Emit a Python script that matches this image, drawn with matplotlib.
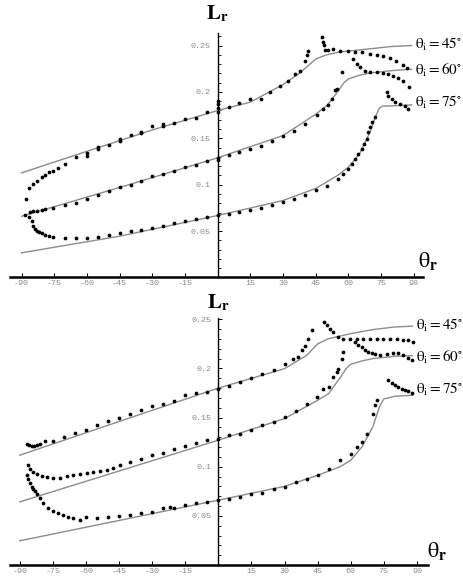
import matplotlib
matplotlib.use("Agg")
import matplotlib.pyplot as plt
from matplotlib.ticker import MultipleLocator, FixedLocator

plt.rcParams["mathtext.fontset"] = "stix"

# ---- panel 1: curves ----
t45_cx = [-90, -60, -30, 0, 15, 30, 38, 45, 50, 56, 60, 70, 80, 89]
t45_cy = [0.1128, 0.136, 0.159, 0.180, 0.189, 0.208, 0.221, 0.2355, 0.240, 0.243, 0.244, 0.2465, 0.249, 0.250]
t60_cx = [-90, -45, 0, 30, 45, 50, 55, 58, 60, 65, 70, 80, 89]
t60_cy = [0.066, 0.097, 0.129, 0.153, 0.176, 0.185, 0.200, 0.210, 0.214, 0.218, 0.2205, 0.223, 0.2245]
t75_cx = [-90, -45, 0, 30, 45, 55, 60, 65, 70, 72, 74, 75.5, 80, 89]
t75_cy = [0.0266, 0.0445, 0.0668, 0.083, 0.096, 0.110, 0.119, 0.133, 0.157, 0.171, 0.182, 0.1847, 0.185, 0.186]

# ---- panel 1: measured points ----
t45_x = [-87.9, -86.4, -84.6, -82.7, -80.7, -79.2, -77.4, -75.4, -73.1, -70,
         -65, -60, -60, -55, -55, -50, -45, -45, -40, -35,
         -35, -30, -25, -25, -20, -15, -10, -5, 0, 0,
         0, 0, 5, 10, 15, 20, 24, 28.6, 32.4, 35.5,
         37.8, 40, 40.8, 41.6, 47.7, 48.4, 48.9, 49.3, 50.5, 53,
         56, 60, 63, 66, 70, 73, 76, 79, 82, 85, 87]
t45_y = [0.0848, 0.0963, 0.101, 0.1045, 0.108, 0.111, 0.1135, 0.1153, 0.118, 0.1225,
         0.1297, 0.134, 0.131, 0.1404, 0.138, 0.143, 0.1494, 0.147, 0.1537, 0.1573,
         0.156, 0.1638, 0.1656, 0.163, 0.1667, 0.171, 0.172, 0.178, 0.178, 0.183,
         0.187, 0.19, 0.1835, 0.1883, 0.1926, 0.1926, 0.2004, 0.2069, 0.2123, 0.2195,
         0.223, 0.2338, 0.2393, 0.2446, 0.259, 0.2537, 0.2501, 0.2447, 0.245, 0.2464,
         0.244, 0.244, 0.243, 0.2425, 0.241, 0.24, 0.239, 0.237, 0.2338, 0.229, 0.2255]
t60_x = [-88.4, -86, -84.6, -82.7, -80.7, -79.2, -75.4,
         -70, -65, -60, -55, -50, -45, -40, -35, -30, -25, -20, -15, -10, -5,
         0, 0, 5, 10, 15, 20, 25, 30, 35, 40,
         45.4, 48.5, 50.8, 52.3, 53.8, 54.6, 56.9,
         62.2, 63.8, 65.3, 67.6, 70, 73, 76, 78.3, 80.6, 82.9, 85.2, 88]
t60_y = [0.0675, 0.0704, 0.0715, 0.072, 0.073, 0.0733, 0.0747,
         0.0776, 0.080, 0.0848, 0.0894, 0.093, 0.0973, 0.1002, 0.1045, 0.1092, 0.1117, 0.1153, 0.119, 0.1214, 0.1254,
         0.129, 0.127, 0.132, 0.135, 0.1387, 0.1422, 0.1466, 0.153, 0.1584, 0.1656,
         0.1746, 0.182, 0.186, 0.1925, 0.2026, 0.2033, 0.222,
         0.2357, 0.23, 0.2267, 0.223, 0.222, 0.221, 0.2206, 0.2195, 0.217, 0.2149, 0.2123, 0.205]
t75_x = [-86.4, -85.3, -84.6, -83.8, -82.7, -81.8, -80.7, -79.2, -77.4, -75.4,
         -70, -65, -60, -55, -50, -45, -40, -35, -30, -25, -20, -15, -10, -5,
         0, 5, 10, 15, 20, 25, 30, 35, 40, 45, 50, 55,
         57.6, 60, 61.5, 63, 64.5, 66, 67.3, 68.3, 69.1, 69.9, 71, 72.2,
         77.5, 78.3, 79.8, 81.3, 83.6, 85.9, 87.5]
t75_y = [0.065, 0.0614, 0.056, 0.0524, 0.0506, 0.0489, 0.0478, 0.046, 0.0445, 0.0435,
         0.0424, 0.0424, 0.0424, 0.0435, 0.046, 0.0478, 0.0496, 0.0517, 0.0535, 0.056, 0.0589, 0.0614, 0.0632, 0.065,
         0.0675, 0.0686, 0.0711, 0.0729, 0.0747, 0.0776, 0.0812, 0.0848, 0.089, 0.0938, 0.099, 0.106,
         0.1117, 0.117, 0.1225, 0.128, 0.133, 0.1387, 0.144, 0.1494, 0.1566, 0.162, 0.1674, 0.1728,
         0.1997, 0.196, 0.1925, 0.189, 0.187, 0.1853, 0.1818]

# ---- panel 2: curves ----
b45_cx = [-90, -45, 0, 30, 40, 45, 50, 60, 70, 80, 88]
b45_cy = [0.1117, 0.146, 0.180, 0.1998, 0.2133, 0.225, 0.2303, 0.2354, 0.2395, 0.2422, 0.243]
b60_cx = [-90, 0, 30, 45, 50, 55, 58, 60, 65, 70, 80, 88]
b60_cy = [0.0642, 0.127, 0.149, 0.1676, 0.1744, 0.190, 0.200, 0.2042, 0.2076, 0.210, 0.2124, 0.213]
b75_cx = [-90, 0, 30, 45, 55, 60, 65, 70, 73, 75, 80, 88]
b75_cy = [0.0246, 0.066, 0.080, 0.0913, 0.0998, 0.1066, 0.120, 0.1405, 0.161, 0.169, 0.1717, 0.1727]

# ---- panel 2: measured points ----
b45_x = [-86.6, -85.7, -84.5, -83.5, -82, -80.8, -78.5, -74.8,
         -70, -65, -60, -55, -50, -45, -40, -35, -30, -25, -20, -15, -10, -5,
         0, 5, 10, 15, 20, 25, 30,
         34, 36, 37.8, 39.3, 40.8, 42.3,
         48, 49.1, 50.6, 52.1, 54.4, 56.6,
         59.7, 62.7, 65.7, 68.7, 71.8, 74.8, 77.8, 80.8, 83.8, 86.1, 88]
b45_y = [0.1236, 0.122, 0.1208, 0.1208, 0.122, 0.1236, 0.126, 0.126,
         0.130, 0.1347, 0.1378, 0.1422, 0.1463, 0.150, 0.154, 0.1575, 0.1615, 0.1636, 0.1666, 0.1727, 0.175, 0.1761,
         0.1795, 0.1822, 0.1863, 0.1907, 0.194, 0.1988, 0.2049,
         0.21, 0.2117, 0.2185, 0.2225, 0.2303, 0.2388,
         0.2473, 0.2439, 0.2405, 0.2371, 0.232, 0.2303,
         0.2303, 0.2303, 0.2303, 0.2303, 0.2303, 0.2303, 0.2303, 0.2303, 0.2293, 0.2286, 0.227]
b60_x = [-86.1, -85.3, -83.8, -82, -80, -77.8, -74.8, -71.8, -68.7, -65.7, -62.7, -59.7, -56.6, -53.6, -50.6, -47.6, -44.6,
         -40, -35, -30, -25, -20, -15, -10, -5,
         0, 5, 10, 15, 20, 25, 30, 35, 40,
         44.9, 47.6, 50, 52.1, 53.6, 54.4, 55.9, 56.6,
         61.9, 63.4, 65, 66.5, 68, 69.5, 71, 73.3, 76.3, 79.3, 81.6, 83.8, 86.1, 87.6]
b60_y = [0.1015, 0.0981, 0.0947, 0.0923, 0.0907, 0.0897, 0.089, 0.089, 0.0903, 0.0913, 0.093, 0.0937, 0.0947, 0.0958, 0.0971, 0.0991, 0.1015,
         0.1049, 0.1083, 0.1117, 0.1141, 0.1178, 0.1208, 0.1246, 0.1276,
         0.1286, 0.132, 0.1337, 0.1378, 0.1422, 0.1456, 0.1507, 0.1568, 0.1642,
         0.171, 0.1795, 0.1812, 0.1914, 0.1964, 0.1998, 0.21, 0.2168,
         0.227, 0.2236, 0.2219, 0.2185, 0.2168, 0.2158, 0.2151, 0.2134, 0.2151, 0.2158, 0.2158, 0.2134, 0.211, 0.2083]
b75_x = [-86.9, -86.1, -85.3, -84.6, -83.8, -83, -82, -80.8, -79.3, -77,
         -74.8, -72.5, -70.2, -68, -65.7, -62.7, -60,
         -55, -50, -45, -40, -35, -30, -25, -22, -20, -15, -10, -5,
         0, 5, 10, 15, 20, 25, 30, 35, 40, 45, 50, 55, 60,
         62.7, 65, 67.2, 70, 71, 71.8,
         77, 78.5, 80, 81.6, 83, 84.6, 86.1, 87.6]
b75_y = [0.0914, 0.088, 0.083, 0.0795, 0.0778, 0.0754, 0.072, 0.0677, 0.0626, 0.0575,
         0.0551, 0.053, 0.0507, 0.049, 0.0483, 0.0462, 0.049,
         0.048, 0.049, 0.05, 0.0507, 0.0524, 0.0541, 0.0575, 0.0592, 0.0585, 0.0609, 0.0626, 0.0642,
         0.0659, 0.0676, 0.0693, 0.072, 0.0734, 0.0778, 0.0795, 0.0846, 0.0873, 0.092, 0.0975, 0.1066, 0.1134,
         0.1202, 0.1253, 0.1337, 0.154, 0.1625, 0.1676,
         0.188, 0.1853, 0.183, 0.1812, 0.1795, 0.1778, 0.1768, 0.1751]

angles = [45, 60, 75]
x_ticks = [-90, -75, -60, -45, -30, -15, 15, 30, 45, 60, 75, 90]
y_ticks = [0.05, 0.1, 0.15, 0.2, 0.25]
y_ticklabels = ["0.05", "0.1", "0.15", "0.2", "0.25"]

tick_font = dict(family="Liberation Mono", size=6, color="#8a8a8a")


def draw_panel(ax, curves, points, xlim, ylim, label_x, label_ys, lr_y, thr_xy):
    for cx, cy in curves:
        ax.plot(cx, cy, color="#8c8c8c", lw=1.0, zorder=2)
    for px, py in points:
        ax.plot(px, py, "o", color="black", ms=2.7, mec="none", zorder=3)

    ax.set_xlim(*xlim)
    ax.set_ylim(*ylim)
    ax.spines["top"].set_visible(False)
    ax.spines["right"].set_visible(False)
    ax.spines["left"].set_position(("data", 0))
    ax.spines["left"].set_linewidth(1.0)
    ax.spines["bottom"].set_linewidth(1.8)
    ax.patch.set_visible(False)

    ax.xaxis.set_major_locator(FixedLocator(x_ticks))
    ax.set_xticklabels([str(t) for t in x_ticks], fontdict=tick_font)
    ax.tick_params(axis="x", direction="in", length=3, width=0.8, pad=2)
    ax.yaxis.set_major_locator(FixedLocator(y_ticks))
    ax.set_yticklabels(y_ticklabels, fontdict=tick_font)
    ax.yaxis.set_minor_locator(MultipleLocator(0.01))
    ax.tick_params(axis="y", which="major", direction="in", length=3, width=0.7, pad=5)
    ax.tick_params(axis="y", which="minor", direction="in", length=2, width=0.6)

    ax.text(0, lr_y, r"$\mathbf{L}_{\mathbf{r}}$", fontsize=15, ha="center",
            va="baseline", clip_on=False)
    ax.text(thr_xy[0], thr_xy[1], r"$\mathrm{\theta}_{\mathbf{r}}$", fontsize=16,
            ha="left", va="baseline", clip_on=False)
    for a, ly in zip(angles, label_ys):
        ax.text(label_x, ly, r"$\mathrm{\theta}_{\mathrm{i}} = %d^{\circ}$" % a,
                fontsize=11, ha="left", va="baseline", clip_on=False)


fig = plt.figure(figsize=(4.63, 5.78), dpi=100)
ax1 = fig.add_axes([0.0216, 0.5199, 0.8920, 0.4230])
ax2 = fig.add_axes([0.0216, 0.0225, 0.9028, 0.4273])

draw_panel(ax1,
           [(t45_cx, t45_cy), (t60_cx, t60_cy), (t75_cx, t75_cy)],
           [(t45_x, t45_y), (t60_x, t60_y), (t75_x, t75_y)],
           (-95.3, 94.2), (0, 0.2635), 90.5, [0.2464, 0.2184, 0.184],
           0.278, (91.9, 0.0115))
draw_panel(ax2,
           [(b45_cx, b45_cy), (b60_cx, b60_cy), (b75_cx, b75_cy)],
           [(b45_x, b45_y), (b60_x, b60_y), (b75_x, b75_y)],
           (-94.4, 95.0), (0, 0.2513), 89.6, [0.2394, 0.2065, 0.1743],
           0.2607, (94.4, 0.008))

fig.savefig("out.png", dpi=100)
